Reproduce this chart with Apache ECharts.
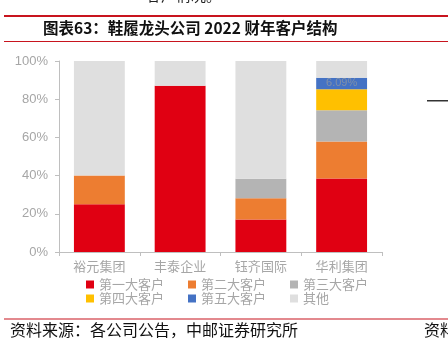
<!DOCTYPE html>
<html>
<head>
<meta charset="utf-8">
<script src="https://cdn.jsdelivr.net/npm/echarts@6/dist/echarts.min.js"></script>
<style>
  html, body { margin: 0; padding: 0; background: #fff; }
  #chart { width: 448px; height: 350px; }
</style>
</head>
<body>
<div id="chart"></div>
<script>
// data
var companies = ['裕元集团', '丰泰企业', '钰齐国际', '华利集团'];
var seriesNames = ['第一大客户', '第二大客户', '第三大客户', '第四大客户', '第五大客户', '其他'];
var firstClient = [25, 87.1, 17, 38.5];
var secondClient = [15, 0, 11.2, 19.3];
var thirdClient = [0, 0, 10.1, 16.4];
var fourthClient = [0, 0, 0, 11.0];
var fifthClient = [0, 0, 0, 6.09];
var others = [60, 12.9, 61.7, 8.71];
var yTicks = [0, 20, 40, 60, 80, 100];

var colors = ['#e00012', '#ed7d31', '#b4b4b4', '#ffc000', '#4472c4', '#dfdfdf'];
var values = [firstClient, secondClient, thirdClient, fourthClient, fifthClient, others];
var font = '"Liberation Sans", "Noto Sans CJK SC", sans-serif';
var cjk = '"Noto Sans CJK SC", sans-serif';

var chart = echarts.init(document.getElementById('chart'));

var series = seriesNames.map(function (name, i) {
  var s = {
    name: name,
    type: 'bar',
    stack: 'total',
    barWidth: '63%',
    itemStyle: { color: colors[i] },
    data: values[i]
  };
  if (i === 4) {
    // only the 华利 blue block carries a label
    s.data = values[i].map(function (v, j) {
      if (j === 3) {
        return { value: v, label: { show: true, position: 'inside', formatter: v.toFixed(2) + '%',
          color: '#8090a8', fontSize: 11, fontFamily: font } };
      }
      return v;
    });
  }
  return s;
});

var legendText = { color: '#a6a6a6', fontSize: 13, fontFamily: cjk };

chart.setOption({
  animation: false,
  backgroundColor: '#fff',
  grid: { left: 59, right: 66, top: 61, bottom: 98 },
  legend: [
    { data: seriesNames.slice(0, 3), left: 86, top: 278, padding: 0, itemWidth: 8, itemHeight: 8, itemGap: 24,
      icon: 'rect', textStyle: legendText },
    { data: seriesNames.slice(3), left: 86, top: 292, padding: 0, itemWidth: 8, itemHeight: 8, itemGap: 24,
      icon: 'rect', textStyle: legendText }
  ],
  xAxis: {
    type: 'category',
    data: companies,
    axisLine: { lineStyle: { color: '#bfbfbf' } },
    axisTick: { show: true, length: 4, lineStyle: { color: '#bfbfbf' } },
    axisLabel: { color: '#a6a6a6', fontSize: 13, fontFamily: cjk, margin: 8 }
  },
  yAxis: {
    type: 'value',
    min: yTicks[0],
    max: yTicks[yTicks.length - 1],
    interval: 20,
    axisLine: { show: true, lineStyle: { color: '#bfbfbf' } },
    axisTick: { show: true, length: 4, lineStyle: { color: '#bfbfbf' } },
    splitLine: { show: false },
    axisLabel: { formatter: '{value}%', color: '#a6a6a6', fontSize: 13, fontFamily: font, margin: 11 }
  },
  graphic: [
    { type: 'text', left: 131, top: -12, style: { text: '一客户情况。', font: '15px ' + cjk, fill: '#222' } },
    { type: 'rect', shape: { x: 4, y: 15, width: 444, height: 2 }, style: { fill: '#c8141e' } },
    { type: 'text', left: 43, top: 20, style: { text: '图表63：鞋履龙头公司 2022 财年客户结构',
      font: 'bold 15.5px ' + cjk, fill: '#111' } },
    { type: 'rect', shape: { x: 4, y: 41, width: 444, height: 1 }, style: { fill: '#c8141e' } },
    { type: 'rect', shape: { x: 427, y: 100, width: 21, height: 1.5 }, style: { fill: '#333' } },
    { type: 'rect', shape: { x: 4, y: 318.5, width: 444, height: 1 }, style: { fill: '#c8141e' } },
    { type: 'text', left: 10, top: 322, style: { text: '资料来源：各公司公告，中邮证券研究所',
      font: '16px ' + cjk, fill: '#111' } },
    { type: 'text', left: 424, top: 322, style: { text: '资料', font: '16px ' + cjk, fill: '#111' } }
  ],
  series: series
});
</script>
</body>
</html>
